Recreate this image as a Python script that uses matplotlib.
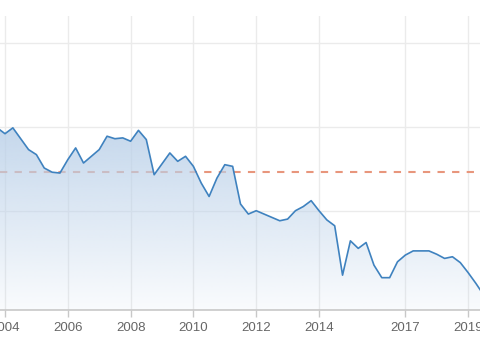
import numpy as np
import matplotlib.pyplot as plt
from matplotlib.patches import Polygon

# quarterly points, index 0 = start of 2004
quarters = np.arange(-1, 62)
values = [1.99, 1.92, 1.99, 1.86, 1.73, 1.67, 1.51, 1.46, 1.45, 1.61,
          1.75, 1.57, 1.65, 1.73, 1.89, 1.86, 1.87, 1.83, 1.96, 1.85,
          1.43, 1.56, 1.69, 1.59, 1.65, 1.53, 1.33, 1.17, 1.39, 1.55,
          1.53, 1.08, 0.96, 1.00, 0.96, 0.92, 0.88, 0.90, 1.00, 1.05,
          1.12, 1.00, 0.89, 0.82, 0.23, 0.64, 0.55, 0.62, 0.35, 0.20,
          0.20, 0.39, 0.47, 0.52, 0.52, 0.52, 0.48, 0.43, 0.45, 0.38,
          0.26, 0.13, -0.01]
tick_pos = [0, 8, 16, 24, 32, 40, 51, 59]
tick_labels = ['2004', '2006', '2008', '2010', '2012', '2014', '2017', '2019']
ref_level = 1.46

xmin, xmax = -0.637, 60.51
ymin, ymax = -0.186, 3.326

fig = plt.figure(figsize=(4.8, 3.42), dpi=100)
ax = fig.add_axes([0, 0.0936, 1, 0.8596])
ax.set_xlim(xmin, xmax)
ax.set_ylim(ymin, ymax)

# grid
ax.set_axisbelow(True)
ax.set_yticks([1, 2, 3])
ax.set_yticklabels([])
ax.tick_params(axis='y', length=0)
ax.set_xticks(tick_pos)
ax.set_xticklabels(tick_labels, fontsize=9.5, color='#666666', family='Liberation Sans')
ax.tick_params(axis='x', length=5, width=1, color='#c8c8c8', pad=3.5)
ax.grid(True, color='#ebebeb', lw=1)

for s in ['top', 'left', 'right']:
    ax.spines[s].set_visible(False)
ax.spines['bottom'].set_color('#c8c8c8')
ax.spines['bottom'].set_linewidth(1.2)

# dashed reference line (beneath the area)
ax.axhline(ref_level, color='#e8967c', lw=1.5, ls=(0, (3.5, 3.5)), zorder=1)

# gradient area fill
n = 256
grad = np.zeros((n, 1, 4))
grad[:, 0, 0] = 187 / 255
grad[:, 0, 1] = 209 / 255
grad[:, 0, 2] = 233 / 255
grad[:, 0, 3] = np.linspace(0.08, 0.85, n)
top = max(values)
im = ax.imshow(grad, extent=[quarters[0], quarters[-1], ymin, top], origin='lower',
               aspect='auto', zorder=2, interpolation='bilinear')
verts = list(zip(quarters, values)) + [(quarters[-1], ymin), (quarters[0], ymin)]
poly = Polygon(verts, closed=True, facecolor='none', edgecolor='none')
ax.add_patch(poly)
im.set_clip_path(poly)
ax.set_xlim(xmin, xmax)
ax.set_ylim(ymin, ymax)

ax.plot(quarters, values, color='#3f82bf', lw=1.2, zorder=3)

fig.savefig('out.png', dpi=100)
